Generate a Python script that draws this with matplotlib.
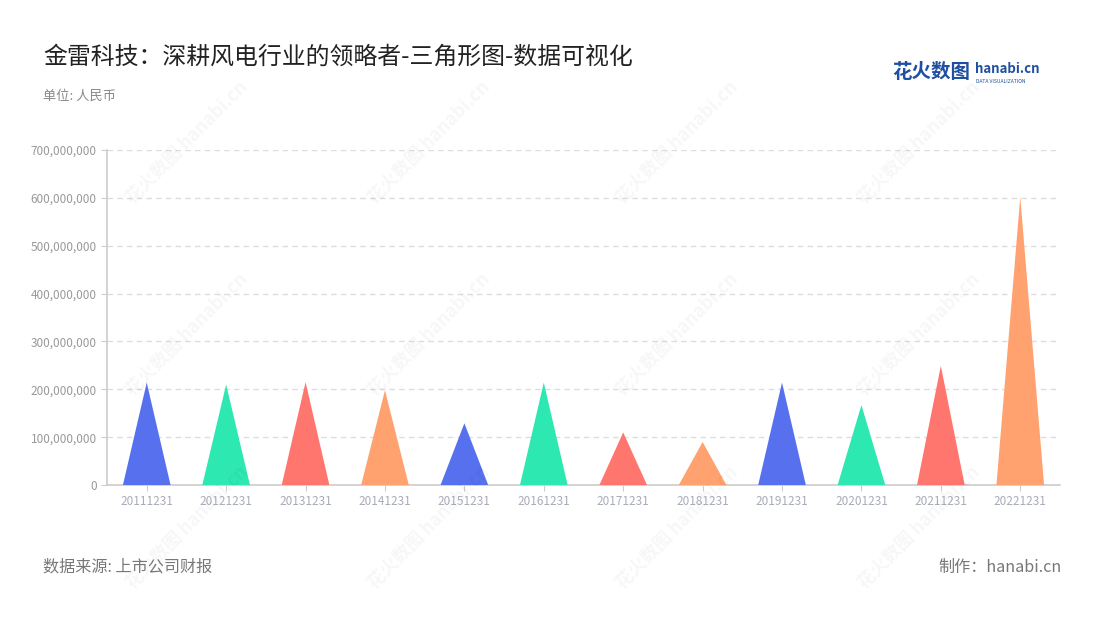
import matplotlib
matplotlib.use('Agg')
import matplotlib.pyplot as plt
from matplotlib.ticker import FuncFormatter, MultipleLocator

plt.rcParams['font.family'] = ['Noto Sans CJK SC', 'DejaVu Sans']

# 数据
dates = ['20111231', '20121231', '20131231', '20141231', '20151231', '20161231',
         '20171231', '20181231', '20191231', '20201231', '20211231', '20221231']
values = [214e6, 210e6, 215e6, 198e6, 129e6, 214e6,
          110e6, 90e6, 214e6, 167e6, 249e6, 602e6]
palette = ['#5771EE', '#2EE8B1', '#FF766F', '#FFA26F']

fig = plt.figure(figsize=(11, 6.2), dpi=100)
ax = fig.add_axes([0.0973, 0.2177, 0.8663, 0.5403])

# 三角形
w = 0.6
for i, v in enumerate(values):
    ax.fill([i - w / 2, i, i + w / 2], [0, v, 0], color=palette[i % 4], lw=0, zorder=3)

ax.set_xlim(-0.5, len(dates) - 0.5)
ax.set_ylim(0, 700e6)
ax.yaxis.set_major_locator(MultipleLocator(100e6))
ax.yaxis.set_major_formatter(FuncFormatter(lambda v, p: f'{int(v):,}'))
ax.set_xticks(range(len(dates)))
ax.set_xticklabels(dates)

ax.grid(axis='y', color='#dddddd', linestyle=(0, (4, 3)), lw=1)
ax.set_axisbelow(True)
for s in ['top', 'right']:
    ax.spines[s].set_visible(False)
ax.spines['left'].set_color('#cccccc')
ax.spines['bottom'].set_color('#cccccc')
ax.spines['left'].set_linewidth(1.2)
ax.spines['bottom'].set_linewidth(1.2)
ax.tick_params(axis='y', colors='#cccccc', labelcolor='#999999', labelsize=8.5, length=4)
ax.tick_params(axis='x', colors='#cccccc', labelcolor='#a8acb8', labelsize=8.5, length=4)

# 水印
for wx in [0.17, 0.39, 0.615, 0.835]:
    for wy in [0.77, 0.46, 0.15]:
        fig.text(wx, wy, '花火数图 hanabi.cn', rotation=45, fontsize=13,
                 color='#000000', alpha=0.035, ha='center', va='center',
                 fontweight='bold', zorder=0)

# 标题
fig.text(0.039, 0.908, '金雷科技：深耕风电行业的领略者-三角形图-数据可视化',
         fontsize=17.2, color='#222222', va='center')
fig.text(0.039, 0.845, '单位: 人民币', fontsize=9.5, color='#888888', va='center')

# logo
fig.text(0.811, 0.883, '花火数图', fontsize=14, color='#1e4fa0', fontweight='bold', va='center')
fig.text(0.886, 0.889, 'hanabi.cn', fontsize=9.5, color='#1e4fa0', fontweight='bold', va='center')
fig.text(0.887, 0.869, 'DATA VISUALIZATION', fontsize=3.6, color='#1e4fa0', va='center')

# 底部
fig.text(0.039, 0.085, '数据来源: 上市公司财报', fontsize=11.6, color='#777777', va='center')
fig.text(0.965, 0.085, '制作：hanabi.cn', fontsize=11.6, color='#777777', va='center', ha='right')

fig.savefig('out.png', dpi=100)
